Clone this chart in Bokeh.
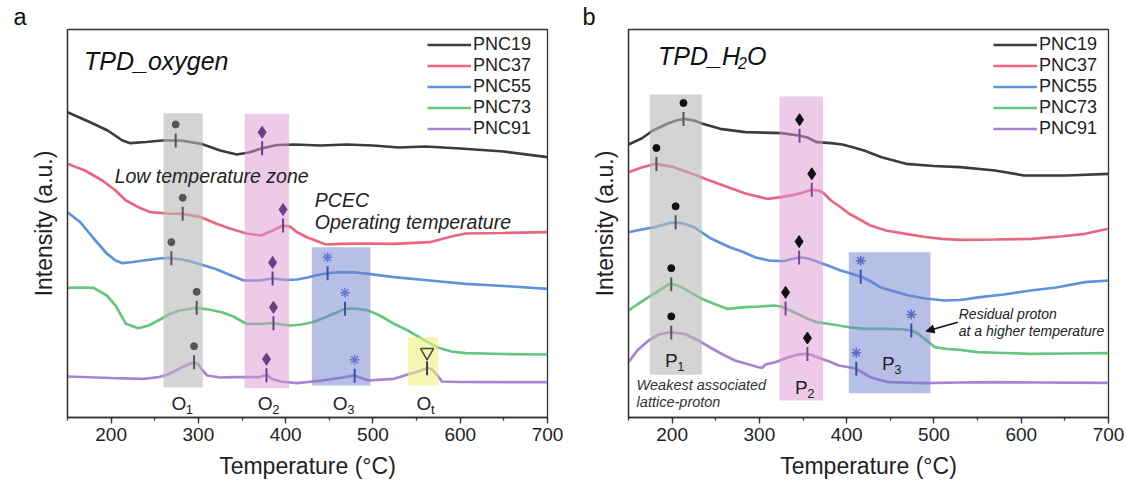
import numpy as np
from bokeh.plotting import figure
from bokeh.layouts import row
from bokeh.models import (Range1d, Legend, LegendItem, Arrow, NormalHead,
                          SingleIntervalTicker, FixedTicker, Title)
from bokeh.core.properties import value
from bokeh.embed import file_html
from bokeh.resources import INLINE

FONT = "Liberation Sans"

series = ["PNC19", "PNC37", "PNC55", "PNC73", "PNC91"]
colors = ["#3c3c3c", "#e8677f", "#5d93d8", "#66c67f", "#a883cf"]
panel_letters = ["a", "b"]

# ---------------- panel a : TPD oxygen (temperature, intensity a.u.) ----------------
a_pnc19 = [(150, 305.3), (176, 295.3), (196, 287), (213, 277), (222, 274.3), (240, 275.5),
           (258, 277), (280, 277), (303, 273.7), (325, 267), (344, 263), (358, 265), (372, 269),
           (390, 272.5), (410, 273), (440, 272), (470, 273), (500, 272), (530, 270), (560, 271),
           (600, 269), (650, 266), (700, 260.3)]
a_pnc37 = [(150, 253.7), (170, 247), (190, 237), (205, 227), (217, 217), (232, 210), (245, 205.3),
           (265, 204), (282, 203.7), (303, 200.3), (320, 194), (336, 189), (355, 184), (372, 182),
           (385, 187), (397, 192), (405, 191), (413, 185.3), (425, 180), (434, 177), (446, 173),
           (462, 173.7), (490, 174), (524, 173.7), (565, 175.3), (590, 181), (606, 184),
           (650, 184.5), (700, 185.3)]
a_pnc55 = [(150, 205.3), (165, 195), (180, 179), (195, 164), (205, 157), (213, 154.3), (225, 155.5),
           (237, 157), (255, 159), (266, 159.7), (280, 158), (287, 157), (303, 153), (319, 148.7),
           (335, 143), (352, 137), (369, 137), (385, 139), (400, 137.5), (413, 138), (425, 140),
           (434, 142), (450, 144.5), (462, 145.3), (480, 145), (495, 143.7), (524, 140.3),
           (565, 137), (606, 133.7), (650, 131.5), (700, 128.7)]
a_pnc73 = [(150, 129.7), (165, 130), (180, 129.7), (195, 122), (205, 112), (217, 93.7), (231, 89.3),
           (243, 92), (254, 97), (266, 103), (278, 107), (298, 109.7), (312, 108), (327, 105.3),
           (340, 101), (355, 93.7), (370, 93.5), (385, 94.3), (396, 93), (406, 92), (418, 93),
           (431, 95.3), (445, 100), (455, 103.7), (468, 108.7), (480, 109), (495, 107), (510, 101),
           (524, 93.7), (540, 87), (553, 80.3), (573, 70.3), (590, 66), (606, 64.3), (650, 63.5),
           (700, 63)]
a_pnc91 = [(150, 41), (200, 39.5), (237, 38.7), (255, 40.5), (265, 43), (278, 48.7), (288, 53),
           (295, 55.3), (300, 53), (304, 48), (310, 42), (325, 40), (340, 40.3), (369, 40.3),
           (376, 42), (379, 42.5), (384, 38.5), (395, 36), (413, 34.3), (442, 37), (465, 40),
           (478, 42), (485, 40), (495, 37), (524, 38.7), (540, 43), (555, 47), (563, 49.5),
           (568, 48), (574, 42), (579, 36), (600, 35.5), (700, 35.3)]

# shaded zones: (T start, T end, top, bottom)
a_zone_names = ["O1", "O2", "O3", "Ot"]
a_zone_left = [260, 353, 430, 540]
a_zone_right = [305, 404, 497, 575]
a_zone_top = [304.3, 303.7, 170.3, 80.3]
a_zone_bottom = [30.3, 29.3, 32, 32]
a_zone_colors = ["#b8b8b8", "#dc96d2", "#7080d0", "#f0f080"]
a_zone_alpha = [0.6, 0.5, 0.5, 0.6]

# peak positions (temperature) per series
a_O1_peaks = [274, 282, 269, 298, 295]
a_O2_peaks = [373, 397, 385, 386, 378]
a_O3_series = [2, 3, 4]
a_O3_peaks = [448, 468, 479]
a_Ot_series = [4]
a_Ot_peaks = [562]

a_zone_label_T = [277.5, 376.5, 462.4, 558.5]
a_zone_label_main = ["O", "O", "O", "O"]
a_zone_label_sub = ["1", "2", "3", "t"]

# ---------------- panel b : TPD H2O ----------------
b_pnc19 = [(150, 273), (165, 279), (178, 287), (195, 294), (205, 297), (214, 298.7), (225, 297),
           (235, 293.7), (255, 288.7), (284, 285.3), (325, 284.3), (345, 282), (355, 280),
           (366, 275.3), (382, 274.3), (395, 273), (407, 270.3), (420, 267), (440, 260.3),
           (468, 253.7), (500, 251.5), (530, 250.3), (570, 247), (603, 242), (652, 242), (700, 243.7)]
b_pnc37 = [(150, 245.3), (165, 250), (181, 253.7), (202, 250.3), (222, 244), (243, 237), (265, 230),
           (284, 224), (309, 218.7), (325, 220.3), (345, 223.7), (360, 227.7), (368, 227), (374, 224),
           (382, 217), (392, 211), (403, 203.7), (415, 198), (427, 192), (445, 187), (468, 183.7),
           (490, 180.5), (509, 178.7), (530, 177.7), (570, 178), (612, 178.7), (645, 181),
           (673, 183.7), (700, 188.7)]
b_pnc55 = [(150, 185.3), (165, 188), (180, 190.3), (195, 194), (205, 195.3), (215, 193.5),
           (225, 190.3), (245, 178.7), (266, 170.3), (280, 166), (295, 160.3), (311, 157), (327, 156.3),
           (340, 159), (348, 160.3), (358, 158.5), (368, 155.3), (380, 151.5), (393, 147), (405, 144),
           (418, 140.3), (428, 136), (438, 130.3), (455, 126), (471, 122), (490, 119), (512, 117),
           (530, 117.5), (553, 120.3), (580, 123), (611, 127), (640, 130), (673, 135.3), (700, 137)]
b_pnc73 = [(150, 107), (160, 113), (173, 120.3), (185, 127), (197, 133.7), (206, 132), (214, 128.7),
           (234, 118.7), (250, 113), (263, 108.7), (284, 110.3), (300, 111), (317, 112), (325, 111),
           (331, 108.7), (345, 103), (356, 98.5), (366, 95.3), (380, 93.5), (391, 92), (405, 90),
           (420, 88.7), (448, 88.7), (465, 88), (475, 87), (483, 83), (489, 78.7), (496, 74),
           (501, 70.3), (515, 68.5), (530, 67.7), (550, 65.3), (580, 64.5), (611, 63.7), (650, 64),
           (700, 64.3)]
b_pnc91 = [(150, 55.3), (160, 67), (173, 77), (185, 83), (197, 85.3), (214, 83.7), (230, 77),
           (243, 70.3), (258, 63), (272, 57), (288, 53), (298, 50.5), (303, 49.5), (307, 53),
           (318, 55.3), (333, 60.3), (345, 63), (354, 63.7), (360, 62.5), (366, 60.3), (380, 56),
           (391, 52), (401, 50.5), (411, 48.7), (420, 44), (427, 40.3), (448, 35.3), (489, 34.3),
           (530, 35), (571, 35.3), (620, 35), (700, 34.7)]

b_zone_names = ["P1", "P2", "P3"]
b_zone_left = [174.5, 323, 402.5]
b_zone_right = [234, 373, 496]
b_zone_top = [323, 321, 165.3]
b_zone_bottom = [42.7, 17, 24.3]
b_zone_colors = ["#b8b8b8", "#dc96d2", "#7080d0"]
b_zone_alpha = [0.6, 0.5, 0.5]

b_P1_peaks = [213, 182, 204, 199, 199]
b_P2_peaks = [346, 360, 345.5, 330, 355]
b_P3_series = [2, 3, 4]
b_P3_peaks = [416, 474, 411]

b_zone_label_T = [199, 348, 447.6]
b_zone_label_I = [57, 30.3, 53.7]
b_zone_label_main = ["P", "P", "P"]
b_zone_label_sub = ["1", "2", "3"]

MARK_GAP = 16      # symbol sits this many a.u. above the peak tick


def make_fig(left, right, letter, letter_offset):
    p = figure(width=563, height=481, x_range=Range1d(150, 700), y_range=Range1d(0, 388),
               output_backend="svg", toolbar_location=None, title=None,
               min_border_left=left, min_border_right=right, min_border_top=29,
               min_border_bottom=64)
    p.title = Title(text=letter, align="left", offset=letter_offset, standoff=0, text_font=FONT,
                    text_font_size="23.5px", text_font_style="normal", text_color="#111111")
    p.xgrid.visible = False
    p.ygrid.visible = False
    p.outline_line_color = "#333333"
    p.outline_line_width = 1.3
    p.background_fill_color = "white"
    p.border_fill_color = "white"
    xa = p.xaxis[0]
    xa.ticker = SingleIntervalTicker(interval=100, num_minor_ticks=2)
    xa.major_label_text_font = FONT
    xa.major_label_text_font_size = "19px"
    xa.major_label_text_color = "#222222"
    xa.major_label_standoff = 4
    xa.major_tick_in = 0
    xa.major_tick_out = 6
    xa.minor_tick_in = 0
    xa.minor_tick_out = 3
    xa.major_tick_line_color = "#333333"
    xa.minor_tick_line_color = "#333333"
    xa.major_tick_line_width = 1.3
    xa.minor_tick_line_width = 1.3
    xa.axis_line_color = "#333333"
    xa.axis_line_width = 1.3
    xa.axis_label = "Temperature (°C)"
    xa.axis_label_text_font = FONT
    xa.axis_label_text_font_size = "23px"
    xa.axis_label_text_font_style = "normal"
    xa.axis_label_text_color = "#222222"
    xa.axis_label_standoff = 9
    ya = p.yaxis[0]
    ya.ticker = FixedTicker(ticks=[])
    ya.major_tick_out = 0
    ya.minor_tick_out = 0
    ya.axis_line_color = "#333333"
    ya.axis_line_width = 1.3
    ya.axis_label = "Intensity (a.u.)"
    ya.axis_label_text_font = FONT
    ya.axis_label_text_font_size = "23px"
    ya.axis_label_text_font_style = "normal"
    ya.axis_label_text_color = "#222222"
    ya.axis_label_standoff = 11
    return p


def draw_curves(p, data, legend_x):
    rends = []
    for name, col, pts in zip(series, colors, data):
        t = [q[0] for q in pts]
        v = [q[1] for q in pts]
        r = p.line(t, v, line_color=col, line_width=2.7)
        rends.append(r)
    items = [LegendItem(label=n, renderers=[r]) for n, r in zip(series, rends)]
    leg = Legend(items=items, location=(legend_x, 278), glyph_width=44, glyph_height=21,
                 label_height=21, label_standoff=2, spacing=0, padding=0, margin=0,
                 border_line_alpha=0, background_fill_alpha=0,
                 label_text_font=FONT, label_text_font_size="18px", label_text_color="#222222")
    p.add_layout(leg)
    return rends


def curve_at(pts, T):
    return float(np.interp(T, [q[0] for q in pts], [q[1] for q in pts]))


def draw_peaks(p, data, idx, peaks, marker, mcolor, tcolor, msize, fill=True):
    xs = list(peaks)
    ys = [curve_at(data[i], t) for i, t in zip(idx, peaks)]
    p.scatter(xs, ys, marker="dash", angle=np.pi / 2, size=14, line_color=tcolor, line_width=2)
    sy = [y + MARK_GAP for y in ys]
    if fill:
        p.scatter(xs, sy, marker=marker, size=msize, fill_color=mcolor, line_color=mcolor)
    else:
        p.scatter(xs, sy, marker=marker, size=msize, fill_color=None, line_color=mcolor,
                  line_width=1.5)


def draw_zones(p, left, right, top, bottom, cols, alphas):
    p.quad(left=left, right=right, top=top, bottom=bottom, fill_color=cols, fill_alpha=alphas,
           line_color=None)


def sub_label(p, xs, ys, mains, subs, size, subsize, dx):
    p.text(xs, ys, text=mains, text_font=value(FONT), text_font_size=size, text_align="center",
           text_baseline="middle", text_color="#222222")
    p.text(xs, ys, text=subs, text_font=value(FONT), text_font_size=subsize, text_align="left",
           text_baseline="middle", text_color="#222222", x_offset=dx, y_offset=6)


# ===================== panel a =====================
pa = make_fig(67, 16, panel_letters[0], -54)
a_data = [a_pnc19, a_pnc37, a_pnc55, a_pnc73, a_pnc91]
draw_curves(pa, a_data, 360)
draw_zones(pa, a_zone_left, a_zone_right, a_zone_top, a_zone_bottom, a_zone_colors, a_zone_alpha)
draw_peaks(pa, a_data, range(5), a_O1_peaks, "circle", "#555555", "#555555", 7)
draw_peaks(pa, a_data, range(5), a_O2_peaks, "diamond", "#6b3f86", "#6b3f86", 12)
draw_peaks(pa, a_data, a_O3_series, a_O3_peaks, "asterisk", "#6878d0", "#3c4ea8", 10, fill=False)
draw_peaks(pa, a_data, a_Ot_series, a_Ot_peaks, "inverted_triangle", "#444444", "#444444", 13,
           fill=False)
sub_label(pa, a_zone_label_T, [13.7] * 4, a_zone_label_main, a_zone_label_sub, "19px", "13px", 7)

pa.text([168.9], [357], text=["TPD_oxygen"], text_font=value(FONT), text_font_size="25px",
        text_font_style="italic", text_align="left", text_baseline="middle", text_color="#111111")
pa.text([204, 433.4, 433.4], [242, 218, 195.3],
        text=["Low temperature zone", "PCEC", "Operating temperature"],
        text_font=value(FONT), text_font_size="19.5px", text_font_style="italic",
        text_align="left", text_baseline="middle", text_color="#222222")

# ===================== panel b =====================
pb = make_fig(65, 18, panel_letters[1], -46)
b_data = [b_pnc19, b_pnc37, b_pnc55, b_pnc73, b_pnc91]
draw_curves(pb, b_data, 365)
draw_zones(pb, b_zone_left, b_zone_right, b_zone_top, b_zone_bottom, b_zone_colors, b_zone_alpha)
draw_peaks(pb, b_data, range(5), b_P1_peaks, "circle", "#111111", "#555555", 7)
draw_peaks(pb, b_data, range(5), b_P2_peaks, "diamond", "#111111", "#7b4a8e", 12)
draw_peaks(pb, b_data, b_P3_series, b_P3_peaks, "asterisk", "#5a6cc4", "#3c4ea8", 10, fill=False)
sub_label(pb, b_zone_label_T, b_zone_label_I, b_zone_label_main, b_zone_label_sub, "19px", "13px", 6)

pb.text([183.8], [362], text=["TPD_H"], text_font=value(FONT), text_font_size="25px",
        text_font_style="italic", text_align="left", text_baseline="middle", text_color="#111111")
pb.text([183.8], [362], text=["2"], text_font=value(FONT), text_font_size="16px",
        text_font_style="italic", text_align="left", text_baseline="middle", text_color="#111111",
        x_offset=80, y_offset=7)
pb.text([183.8], [362], text=["O"], text_font=value(FONT), text_font_size="25px",
        text_font_style="italic", text_align="left", text_baseline="middle", text_color="#111111",
        x_offset=89)
pb.text([159.3, 159.3], [32.7, 15.3], text=["Weakest associated", "lattice-proton"],
        text_font=value(FONT), text_font_size="14.5px", text_font_style="italic",
        text_align="left", text_baseline="middle", text_color="#333333")
pb.text([528.4, 528.4], [103.7, 87], text=["Residual proton", "at a higher temperature"],
        text_font=value(FONT), text_font_size="14px", text_font_style="italic",
        text_align="left", text_baseline="middle", text_color="#222222")
arrow_start = (527.3, 95.3)
arrow_end = (491, 86.3)
pb.add_layout(Arrow(end=NormalHead(size=8, fill_color="#111111", line_color="#111111"),
                    x_start=arrow_start[0], y_start=arrow_start[1],
                    x_end=arrow_end[0], y_end=arrow_end[1], line_width=1.5,
                    line_color="#111111"))

layout = row(pa, pb)
open("out.html", "w").write(file_html(layout, INLINE))
